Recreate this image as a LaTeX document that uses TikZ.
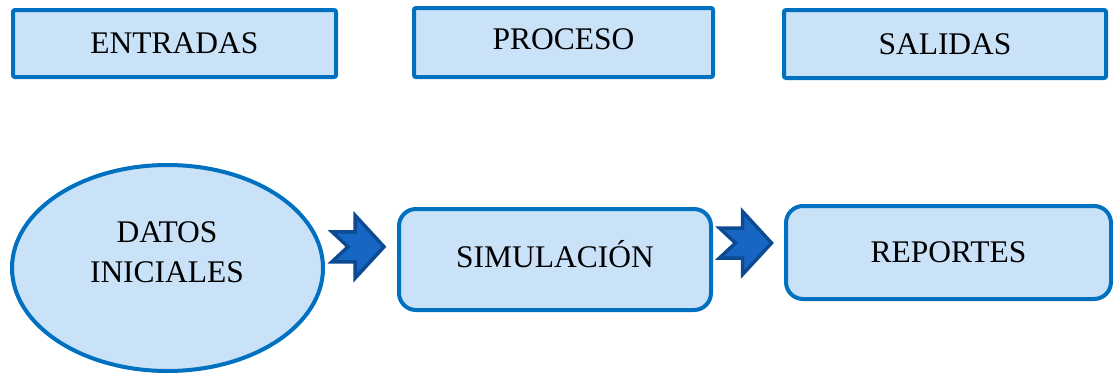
\documentclass[tikz,border=0pt]{standalone}
\usepackage{fontspec}
\setmainfont{Liberation Serif}
\usetikzlibrary{shapes.geometric,calc}

\definecolor{edgeblue}{RGB}{0,112,192}
\definecolor{paleblue}{RGB}{201,226,248}
\definecolor{arrowfill}{RGB}{24,102,196}
\definecolor{arrowedge}{RGB}{12,74,146}

\tikzset{
  lbl/.style={font=\fontsize{31.5}{40}\selectfont, text=black},
  headbox/.style={draw=edgeblue, fill=paleblue, line width=4pt,
    rounded corners=2pt, inner sep=0pt, lbl,
    text height=20.9pt, text depth=0pt},
  stagebox/.style={draw=edgeblue, fill=paleblue, line width=4pt,
    rounded corners=17pt, inner sep=0pt, lbl,
    text height=20.9pt, text depth=0pt},
  stageoval/.style={ellipse, draw=edgeblue, fill=paleblue, line width=4pt,
    inner sep=0pt},
  chevron/.pic={
    \filldraw[fill=arrowfill, draw=arrowedge, line width=3.5pt, line join=miter]
      (-26,-15) -- (-3,-15) -- (-3,-31.5) -- (26,0) -- (-3,31.5)
      -- (-3,15) -- (-26,15) -- (-10,0) -- cycle;
  }
}

\begin{document}
\begin{tikzpicture}[x=1pt, y=-1pt]
  \useasboundingbox (0,0) rectangle (1113,375);

  % column headings
  \node[headbox, minimum width=323pt, minimum height=67pt] (ent) at (174.5,43.5) {ENTRADAS};
  \node[headbox, minimum width=299pt, minimum height=69pt, text depth=7pt] (pro) at (563.5,42.5) {PROCESO};
  \node[headbox, minimum width=322pt, minimum height=68pt] (sal) at (945,44) {SALIDAS};

  % stages of the flow
  \node[stageoval, minimum width=311pt, minimum height=206pt] (dat) at (167.5,268) {};
  \node[lbl, align=center, anchor=base] (dattxt) at (167,282) {DATOS\\INICIALES};
  \node[stagebox, minimum width=312pt, minimum height=101pt, text depth=4pt] (sim) at (555,259.5) {SIMULACIÓN};
  \node[stagebox, minimum width=325pt, minimum height=93pt] (rep) at (948.5,252.5) {REPORTES};

  % block arrows between stages
  \pic at ([xshift=-3pt, yshift=17pt]$(dat.east)!0.5!(sim.west)$) {chevron};
  \pic at ([xshift=-3pt, yshift=13pt]$(sim.east)!0.5!(rep.west)$) {chevron};
\end{tikzpicture}
\end{document}
